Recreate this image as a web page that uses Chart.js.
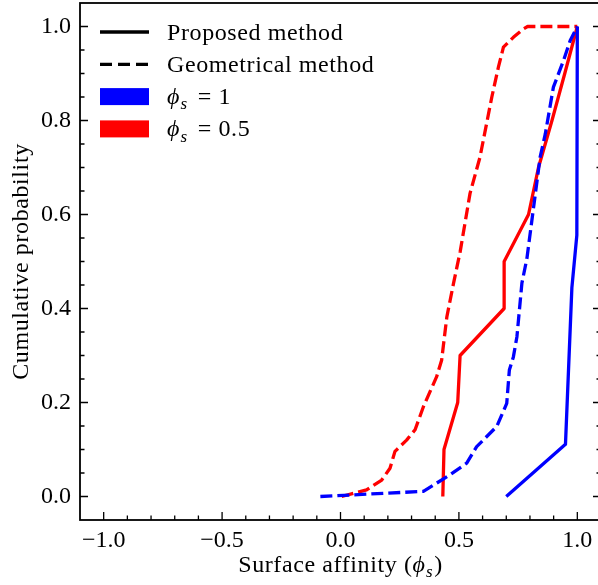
<!DOCTYPE html>
<html>
<head>
<meta charset="utf-8">
<script src="https://cdn.jsdelivr.net/npm/chart.js@4.4.1/dist/chart.umd.min.js"></script>
<style>
  html, body { margin: 0; padding: 0; background: #fff; overflow: hidden; }
  canvas { display: block; }
</style>
</head>
<body>
<canvas id="chart" width="604" height="585"></canvas>
<script>
// axis ticks
const xTickValues = [-1.0, -0.5, 0.0, 0.5, 1.0];
const yTickValues = [0.0, 0.2, 0.4, 0.6, 0.8, 1.0];

// Proposed method, phi_s = 1 (blue, solid)
const propBlueX = [0.70, 0.95, 0.977, 0.998, 1.0];
const propBlueY = [0.0, 0.111, 0.444, 0.556, 1.0];

// Proposed method, phi_s = 0.5 (red, solid)
const propRedX = [0.432, 0.437, 0.495, 0.505, 0.691, 0.691, 0.794, 0.836, 0.893, 0.947, 1.0];
const propRedY = [0.0, 0.1, 0.2, 0.3, 0.4, 0.5, 0.6, 0.7, 0.8, 0.9, 1.0];

// Geometrical method, phi_s = 1 (blue, dashed)
const geoBlueX = [-0.085, 0.35, 0.462, 0.533, 0.575, 0.66, 0.702, 0.713, 0.73, 0.745, 0.766, 0.787, 0.843, 0.865, 0.899, 0.942, 0.97, 1.0];
const geoBlueY = [0.0, 0.011, 0.046, 0.071, 0.106, 0.149, 0.198, 0.269, 0.297, 0.34, 0.454, 0.506, 0.722, 0.772, 0.871, 0.928, 0.97, 1.0];

// Geometrical method, phi_s = 0.5 (red, dashed)
const geoRedX = [0.005, 0.11, 0.174, 0.209, 0.23, 0.279, 0.315, 0.35, 0.406, 0.427, 0.449, 0.477, 0.505, 0.547, 0.589, 0.639, 0.667, 0.688, 0.73, 0.773, 0.79, 1.0];
const geoRedY = [0.0, 0.014, 0.035, 0.06, 0.096, 0.12, 0.142, 0.191, 0.255, 0.29, 0.382, 0.453, 0.52, 0.645, 0.722, 0.85, 0.914, 0.956, 0.977, 0.995, 1.0, 1.0];

const SERIF = '"Liberation Serif", "DejaVu Serif", serif';
const BLUE = '#0000ff';
const RED = '#ff0000';
const DASH = [12, 5];
const PHI = '\u03d5';

function pairs(xs, ys) {
  return xs.map((x, i) => ({ x: x, y: ys[i] }));
}

function fmt(v) {
  const s = Math.abs(v).toFixed(1);
  return v < -1e-9 ? '\u2212' + s : s;
}

// draws "phi_s" (italic + subscript) followed by plain text, returns end x
function drawPhiS(ctx, x, y, size, tail) {
  ctx.font = 'italic ' + size + 'px ' + SERIF;
  ctx.fillText(PHI, x, y);
  x += ctx.measureText(PHI).width + 0.5;
  const sub = Math.round(size * 0.7);
  ctx.font = 'italic ' + sub + 'px ' + SERIF;
  ctx.fillText('s', x, y + size * 0.22);
  x += ctx.measureText('s').width + 1;
  ctx.font = size + 'px ' + SERIF;
  if (tail) ctx.fillText(tail, x, y);
  return x;
}

const decorations = {
  id: 'decorations',
  afterDraw(chart) {
    const ctx = chart.ctx;
    const a = chart.chartArea;
    const xs = chart.scales.x, ys = chart.scales.y;
    ctx.save();

    // inward ticks: bottom, left and right
    ctx.strokeStyle = '#000';
    ctx.lineWidth = 1.3;
    ctx.beginPath();
    for (let i = -10; i <= 10; i++) {
      const v = i / 10;
      const px = xs.getPixelForValue(v);
      const major = xTickValues.some(t => Math.abs(t - v) < 1e-9);
      const len = major ? 8 : 4.5;
      ctx.moveTo(px, a.bottom);
      ctx.lineTo(px, a.bottom - len);
    }
    for (let i = 0; i <= 20; i++) {
      const v = i / 20;
      const py = ys.getPixelForValue(v);
      const major = yTickValues.some(t => Math.abs(t - v) < 1e-9);
      const len = major ? 8 : 4.5;
      ctx.moveTo(a.left, py);
      ctx.lineTo(a.left + len, py);
      ctx.moveTo(a.right, py);
      ctx.lineTo(a.right - len, py);
    }
    ctx.stroke();

    // frame
    ctx.lineWidth = 1.8;
    ctx.strokeRect(a.left, a.top, a.right - a.left, a.bottom - a.top);

    // legend
    const hx0 = a.left + 20, hx1 = a.left + 69, tx = a.left + 87;
    const rowY = i => a.top + 29 + i * 32.3;
    ctx.fillStyle = '#000';
    ctx.textAlign = 'left';
    ctx.textBaseline = 'alphabetic';
    ctx.lineWidth = 3.3;
    ctx.lineCap = 'butt';
    ctx.beginPath();
    ctx.moveTo(hx0, rowY(0));
    ctx.lineTo(hx1, rowY(0));
    ctx.stroke();
    ctx.setLineDash([12, 6]);
    ctx.beginPath();
    ctx.moveTo(hx0, rowY(1));
    ctx.lineTo(hx1, rowY(1));
    ctx.stroke();
    ctx.setLineDash([]);
    ctx.fillStyle = BLUE;
    ctx.fillRect(hx0, rowY(2) - 8.5, hx1 - hx0, 17);
    ctx.fillStyle = RED;
    ctx.fillRect(hx0, rowY(3) - 8.5, hx1 - hx0, 17);

    ctx.fillStyle = '#000';
    ctx.letterSpacing = '0.6px';
    ctx.font = '24px ' + SERIF;
    ctx.fillText('Proposed method', tx, rowY(0) + 7.7);
    ctx.fillText('Geometrical method', tx, rowY(1) + 7.7);
    let ex = drawPhiS(ctx, tx, rowY(2) + 7, 24, '');
    ctx.fillText('= 1', ex + 9, rowY(2) + 7);
    ex = drawPhiS(ctx, tx, rowY(3) + 7.5, 24, '');
    ctx.fillText('= 0.5', ex + 9, rowY(3) + 7.5);

    // x axis title
    ctx.font = '24px ' + SERIF;
    const p1 = 'Surface affinity (';
    const w1 = ctx.measureText(p1).width;
    ctx.font = 'italic 24px ' + SERIF;
    const wPhi = ctx.measureText(PHI).width + 0.5;
    ctx.font = 'italic 17px ' + SERIF;
    const wS = ctx.measureText('s').width + 1;
    ctx.font = '24px ' + SERIF;
    const wP = ctx.measureText(')').width;
    const x0 = (a.left + a.right) / 2 - (w1 + wPhi + wS + wP) / 2;
    ctx.fillText(p1, x0, 572);
    drawPhiS(ctx, x0 + w1, 572, 24, ')');

    // y axis title
    ctx.translate(28, (a.top + a.bottom) / 2);
    ctx.rotate(-Math.PI / 2);
    ctx.textAlign = 'center';
    ctx.font = '24px ' + SERIF;
    ctx.fillText('Cumulative probability', 0, 0);
    ctx.restore();
  }
};

function lineSet(label, xs, ys, color, dashed) {
  return {
    label: label,
    data: pairs(xs, ys),
    borderColor: color,
    backgroundColor: color,
    borderWidth: 3.3,
    borderDash: dashed ? DASH : [],
    borderCapStyle: 'butt',
    borderJoinStyle: 'round',
    pointRadius: 0,
    fill: false,
    tension: 0
  };
}

new Chart(document.getElementById('chart'), {
  type: 'line',
  data: {
    datasets: [
      lineSet('Proposed, phi_s = 1', propBlueX, propBlueY, BLUE, false),
      lineSet('Geometrical, phi_s = 1', geoBlueX, geoBlueY, BLUE, true),
      lineSet('Geometrical, phi_s = 0.5', geoRedX, geoRedY, RED, true),
      lineSet('Proposed, phi_s = 0.5', propRedX, propRedY, RED, false)
    ]
  },
  options: {
    responsive: false,
    animation: false,
    events: [],
    layout: { padding: { top: 3, right: 3, left: 0, bottom: 0 } },
    plugins: { legend: { display: false }, tooltip: { enabled: false } },
    scales: {
      x: {
        type: 'linear',
        min: -1.1,
        max: 1.1,
        grid: { display: false, drawTicks: false },
        border: { display: false },
        afterBuildTicks: s => { s.ticks = xTickValues.map(v => ({ value: v })); },
        afterFit: s => { s.height = 65; s.paddingLeft = 0; s.paddingRight = 0; },
        ticks: {
          autoSkip: false,
          maxRotation: 0,
          padding: 6,
          color: '#000',
          font: { family: SERIF, size: 24 },
          callback: v => fmt(v)
        }
      },
      y: {
        type: 'linear',
        min: -0.05,
        max: 1.05,
        grid: { display: false, drawTicks: false },
        border: { display: false },
        afterBuildTicks: s => { s.ticks = yTickValues.map(v => ({ value: v })); },
        afterFit: s => { s.width = 80; s.paddingTop = 0; s.paddingBottom = 0; },
        ticks: {
          autoSkip: false,
          padding: 9,
          color: '#000',
          font: { family: SERIF, size: 24 },
          callback: v => fmt(v)
        }
      }
    }
  },
  plugins: [decorations]
});
</script>
</body>
</html>
